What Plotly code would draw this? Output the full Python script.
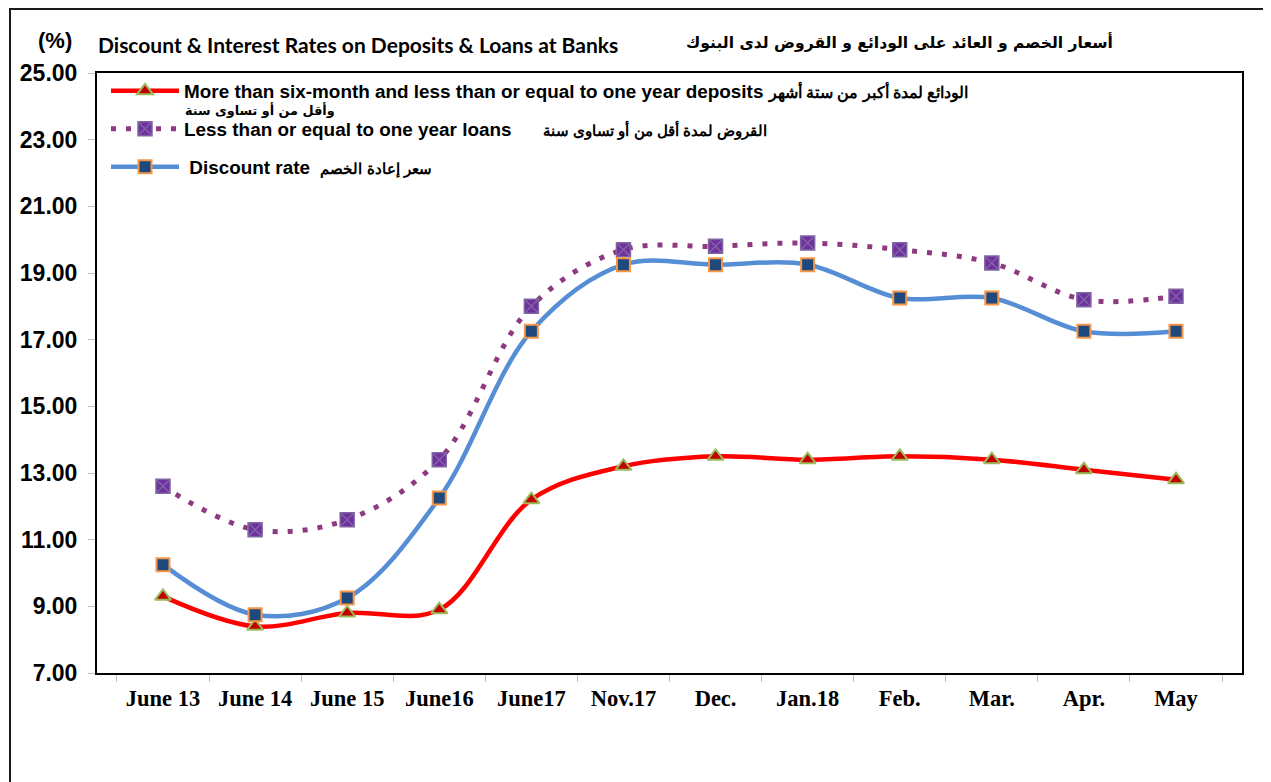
import plotly.graph_objects as go

categories = ["June 13", "June 14", "June 15", "June16", "June17", "Nov.17",
              "Dec.", "Jan.18", "Feb.", "Mar.", "Apr.", "May"]
deposits = [9.3, 8.4, 8.8, 8.9, 12.2, 13.2, 13.5, 13.4, 13.5, 13.4, 13.1, 12.8]
loans = [12.6, 11.3, 11.6, 13.4, 18.0, 19.7, 19.8, 19.9, 19.7, 19.3, 18.2, 18.3]
discount = [10.25, 8.75, 9.25, 12.25, 17.25, 19.25, 19.25, 19.25, 18.25, 18.25, 17.25, 17.25]

name_dep = ("More than six-month and less than or equal to one year deposits\u00a0"
            "<span style='font-size:15.5px'>الودائع لمدة أكبر من ستة أشهر</span>")
dep_line2 = "وأقل من أو تساوى سنة"
name_loan = ("Less than or equal to one year loans" + "\u00a0" * 6 +
             "<span style='font-size:15px'>القروض لمدة أقل من أو تساوى سنة</span>")
name_disc = ("\u00a0Discount rate\u00a0\u00a0"
             "<span style='font-size:15.4px'>سعر إعادة الخصم</span>")

# page has an 8px body margin: work in screen pixels and convert
OFF = 8
W, H = 1263, 774
L, R, T, B = 97 - OFF, W - (1242 - OFF), 73 - OFF, H - (673 - OFF)
pw, ph = W - L - R, H - T - B


def px(x):
    return (x - OFF - L) / pw


def py(y):
    return (H - B - (y - OFF)) / ph


fig = go.Figure()
fig.add_trace(go.Scatter(
    x=categories, y=deposits, name=name_dep, mode="lines+markers", legend="legend",
    line=dict(color="#FF0000", width=4.5, shape="spline", smoothing=1),
    marker=dict(symbol="triangle-up", size=14, color="#C00000",
                line=dict(color="#9BBB59", width=2))))
fig.add_trace(go.Scatter(
    x=categories, y=loans, name=name_loan, mode="lines+markers", legend="legend2",
    line=dict(color="#8E3A80", width=5, shape="spline", smoothing=1, dash="5px,10px"),
    marker=dict(symbol="square-x", size=14, color="#7030A0",
                line=dict(color="#8064A2", width=1.5))))
fig.add_trace(go.Scatter(
    x=categories, y=discount, name=name_disc, mode="lines+markers", legend="legend3",
    line=dict(color="#558ED5", width=4.5, shape="spline", smoothing=1),
    marker=dict(symbol="square", size=13, color="#1F497D",
                line=dict(color="#F79646", width=2))))

legfont = dict(family="Liberation Sans, Arial", size=18.9, color="black", weight="bold")


def leg(ytop):
    return dict(x=px(106), y=py(ytop), xanchor="left", yanchor="top",
                bgcolor="rgba(0,0,0,0)", itemwidth=68, valign="middle",
                font=legfont, itemclick=False, itemdoubleclick=False)


fig.update_layout(
    width=W, height=H,
    margin=dict(l=L, r=R, t=T, b=B, autoexpand=False),
    paper_bgcolor="white", plot_bgcolor="white",
    showlegend=True,
    legend=leg(72),
    legend2=leg(110),
    legend3=leg(148),
    xaxis=dict(type="category", automargin=False, showgrid=False, showline=True,
               linecolor="black", linewidth=2,
               mirror=True, ticks="outside", tickson="boundaries", tickcolor="#BFBFBF",
               ticklen=7, tickwidth=1,
               tickfont=dict(family="Liberation Serif, Times New Roman", size=22.5, color="black",
                             weight="bold"),
               ticklabelstandoff=4),
    yaxis=dict(range=[7, 25], tick0=7, dtick=2, tickformat=".2f", automargin=False,
               showgrid=False, zeroline=False,
               showline=True, linecolor="black", linewidth=2, mirror=True,
               ticks="outside", tickcolor="#BFBFBF", ticklen=7, tickwidth=1,
               tickfont=dict(family="Liberation Sans, Arial", size=23, color="black", weight="bold"),
               ticklabelstandoff=6),
    shapes=[dict(type="rect", xref="paper", yref="paper",
                 x0=px(10), x1=px(1300), y0=py(820), y1=py(9),
                 line=dict(color="#1a1a1a", width=2), fillcolor="rgba(0,0,0,0)", layer="below")],
    annotations=[
        dict(text="(%)", xref="paper", yref="paper", x=px(55), y=py(40),
             xanchor="center", yanchor="middle", showarrow=False,
             font=dict(family="Liberation Sans, Arial", size=22, color="black", weight="bold")),
        dict(text="Discount & Interest Rates on Deposits & Loans at Banks", xref="paper", yref="paper",
             x=px(96), y=py(44), xanchor="left", yanchor="middle", showarrow=False,
             font=dict(family="Lato, Open Sans", size=21, color="black", weight="bold")),
        dict(text="أسعار الخصم و العائد على الودائع و القروض لدى البنوك", xref="paper", yref="paper",
             x=px(1115), y=py(42), xanchor="right", yanchor="middle", showarrow=False,
             font=dict(family="DejaVu Sans", size=15.6, color="black", weight="bold")),
        dict(text=dep_line2, xref="paper", yref="paper", x=px(183), y=py(110),
             xanchor="left", yanchor="middle", showarrow=False,
             font=dict(family="DejaVu Sans", size=12.8, color="black", weight="bold")),
    ],
)

fig.write_html("out.html")
